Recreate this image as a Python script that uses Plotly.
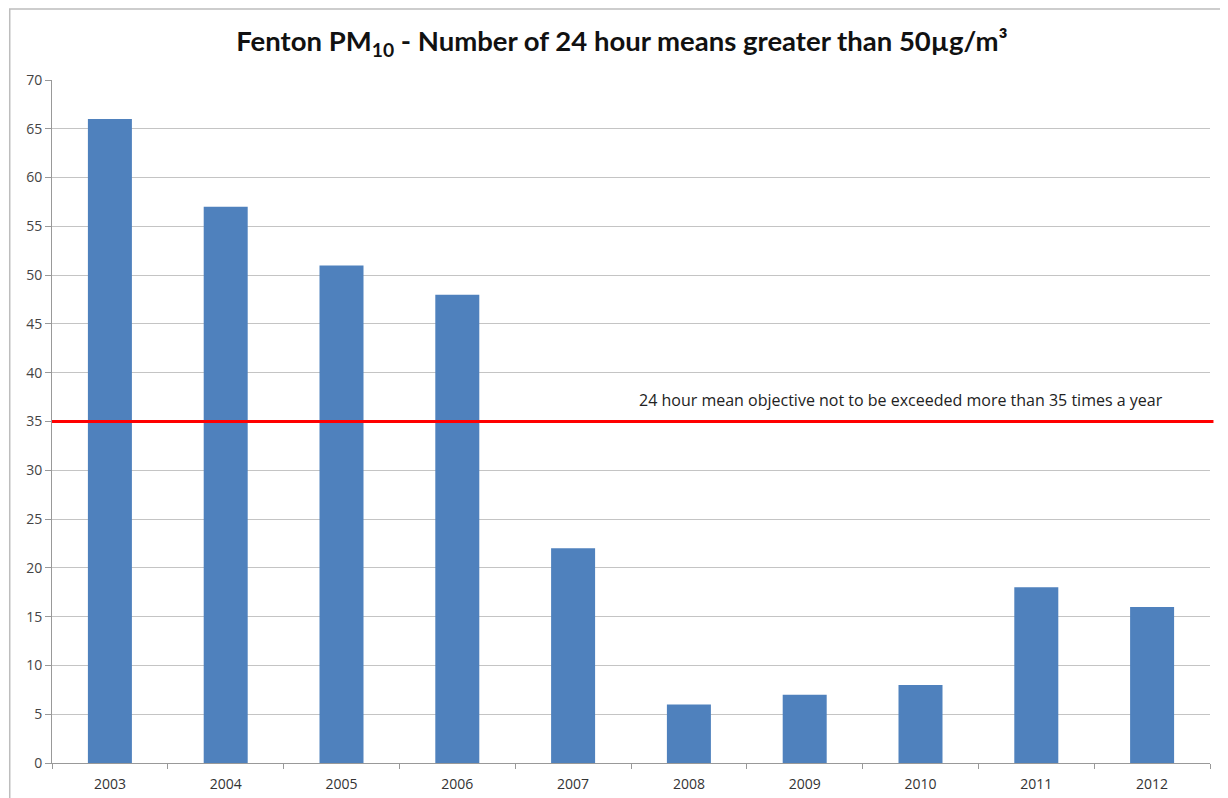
import plotly.graph_objects as go

years = ["2003", "2004", "2005", "2006", "2007", "2008", "2009", "2010", "2011", "2012"]
exceedances = [66, 57, 51, 48, 22, 6, 7, 8, 18, 16]
objective = 35
objective_label = "24 hour mean objective not to be exceeded more than 35 times a year"
title_text = "<b>Fenton PM<sub>10</sub> - Number of 24 hour means greater than 50µg/m³</b>"

fig = go.Figure()
fig.add_trace(go.Bar(
    x=years, y=exceedances,
    marker=dict(color="#4f81bd", line=dict(width=0)),
    showlegend=False,
))

fig.add_shape(type="line", xref="paper", yref="y", x0=0, x1=1.003, y0=objective, y1=objective,
              line=dict(color="#ff0000", width=3), layer="above")
fig.add_annotation(xref="paper", yref="y", x=0.505, xanchor="left", y=objective, yshift=22,
                   showarrow=False, text=objective_label,
                   font=dict(family="Open Sans", size=16, color="#222"))
# outer chart border
fig.add_shape(type="rect", xref="paper", yref="paper", x0=-0.0365, x1=1.1, y0=-0.2, y1=1.104,
              line=dict(color="#bdbdbd", width=1.5), layer="below")

fig.update_layout(
    width=1228, height=798,
    margin=dict(l=44, r=26, t=72, b=43, autoexpand=False),
    paper_bgcolor="white", plot_bgcolor="white",
    bargap=0.62,
    title=dict(text=title_text, x=0.5, xanchor="center", y=0.958, yanchor="middle",
               font=dict(family="Lato", size=27.5, color="#111")),
    font=dict(family="Open Sans", color="#444"),
)
fig.update_xaxes(showline=True, linecolor="#999", linewidth=1, ticks="outside", tickson="boundaries",
                 ticklen=5, tickcolor="#999", tickfont=dict(size=14, color="#333"), showgrid=False,
                 ticklabelstandoff=8)
fig.update_yaxes(range=[0, 70], dtick=5, showline=True, linecolor="#999", linewidth=1,
                 ticks="outside", ticklen=6, tickcolor="#999", gridcolor="#c4c4c4",
                 tickfont=dict(size=14, color="#444"), zeroline=False)

fig.write_html("out.html")
